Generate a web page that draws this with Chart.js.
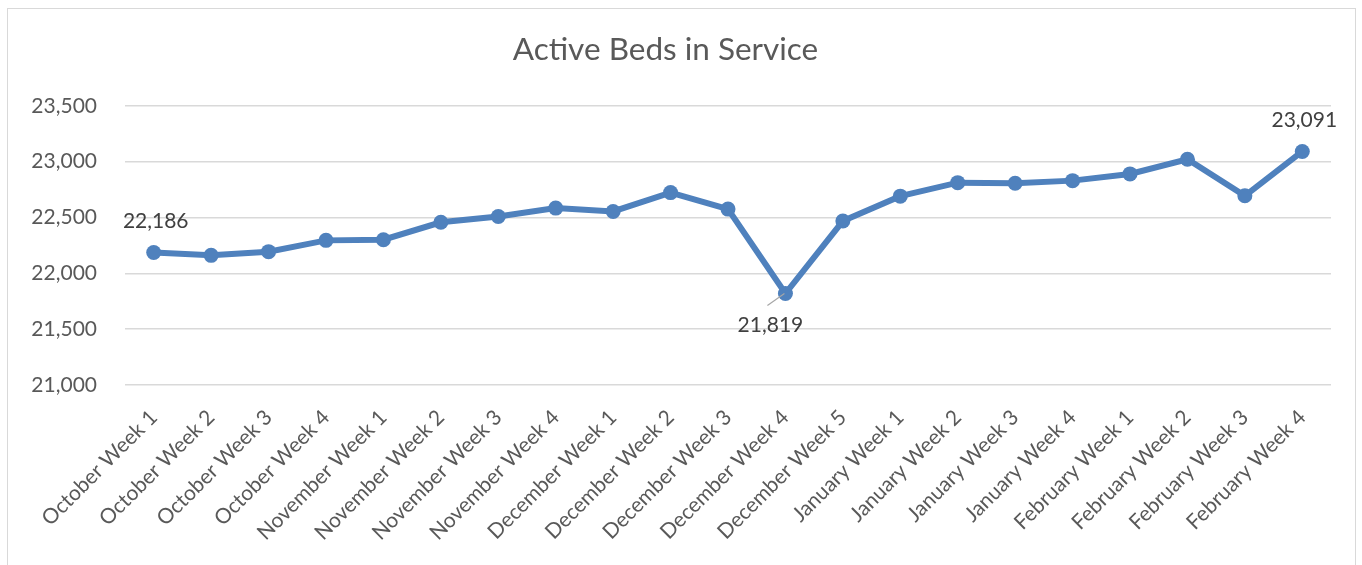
<!DOCTYPE html>
<html><head><meta charset="utf-8">
<script src="https://cdn.jsdelivr.net/npm/chart.js@4.4.0/dist/chart.umd.min.js"></script>
<style>
html,body{margin:0;padding:0;background:#fff;}
#wrap{position:absolute;left:0;top:0;width:1362px;height:565px;overflow:hidden;}
#frame{position:absolute;left:7px;top:8px;width:1349px;height:600px;border:1px solid #d9d9d9;box-sizing:border-box;}
#c{position:absolute;left:0;top:0;}
</style></head><body>
<div id="wrap"><div id="frame"></div><canvas id="c" width="1362" height="565"></canvas></div>
<script>
const categories = [
  "October Week 1","October Week 2","October Week 3","October Week 4",
  "November Week 1","November Week 2","November Week 3","November Week 4",
  "December Week 1","December Week 2","December Week 3","December Week 4","December Week 5",
  "January Week 1","January Week 2","January Week 3","January Week 4",
  "February Week 1","February Week 2","February Week 3","February Week 4"
];
const activeBeds = [22186, 22161, 22194, 22295, 22301, 22457, 22509, 22584, 22554, 22723, 22575, 21819, 22468, 22691, 22812, 22807, 22830, 22890, 23021, 22694, 23091];
const yTicks = [21000, 21500, 22000, 22500, 23000, 23500];
const labeledPoints = [0, 11, 20];
const chartTitle = "Active Beds in Service";

const FONT = "Lato, 'Open Sans', sans-serif";
const fmt = v => Number(v).toLocaleString('en-US');

const dataLabels = {
  id: 'dataLabels',
  afterDatasetsDraw(chart) {
    const meta = chart.getDatasetMeta(0);
    const ctx = chart.ctx;
    ctx.save();
    ctx.font = "21px " + FONT;
    ctx.fillStyle = '#404040';
    ctx.textAlign = 'center';
    ctx.textBaseline = 'middle';
    labeledPoints.forEach(i => {
      const p = meta.data[i];
      const v = activeBeds[i];
      const prev = activeBeds[i - 1], next = activeBeds[i + 1];
      const isMin = (prev === undefined || v < prev) && (next === undefined || v < next) && i > 0 && i < activeBeds.length - 1;
      if (isMin) {
        const lx = p.x - 15, ly = p.y + 32;
        ctx.strokeStyle = '#a6a6a6';
        ctx.lineWidth = 1.2;
        ctx.beginPath();
        ctx.moveTo(p.x - 1, p.y);
        ctx.lineTo(p.x - 18, p.y + 12);
        ctx.stroke();
        ctx.fillText(fmt(v), lx, ly);
      } else {
        ctx.fillText(fmt(v), p.x + 2, p.y - 31);
      }
    });
    ctx.restore();
  }
};

new Chart(document.getElementById('c'), {
  type: 'line',
  data: {
    labels: categories,
    datasets: [{
      data: activeBeds,
      borderColor: '#4f81bd',
      backgroundColor: '#4f81bd',
      borderWidth: 6,
      pointRadius: 7.5,
      pointBorderWidth: 0,
      pointBackgroundColor: '#4f81bd',
      tension: 0,
      fill: false
    }]
  },
  options: {
    responsive: false,
    animation: false,
    devicePixelRatio: 1,
    layout: { padding: { left: 0, right: 31, top: 10, bottom: 0 } },
    plugins: {
      legend: { display: false },
      tooltip: { enabled: false },
      title: {
        display: true,
        text: chartTitle,
        color: '#595959',
        font: { family: FONT, size: 31.5, weight: 'normal', lineHeight: 1.2 },
        padding: { top: 21, bottom: 37 }
      }
    },
    scales: {
      x: {
        offset: true,
        grid: { display: false },
        border: { display: false },
        ticks: {
          color: '#595959',
          font: { family: FONT, size: 21 },
          maxRotation: 45,
          minRotation: 45,
          autoSkip: false,
          padding: 12
        },
        afterFit(s) { s.height = 180; }
      },
      y: {
        min: yTicks[0],
        max: yTicks[yTicks.length - 1],
        afterBuildTicks(s) { s.ticks = yTicks.map(v => ({ value: v })); },
        grid: { color: '#d9d9d9', lineWidth: 1.5, drawTicks: false },
        border: { display: false },
        ticks: {
          color: '#595959',
          font: { family: FONT, size: 21 },
          padding: 28,
          callback: v => fmt(v)
        },
        afterFit(s) { s.width = 125; }
      }
    }
  },
  plugins: [dataLabels]
});
</script>
</body></html>
